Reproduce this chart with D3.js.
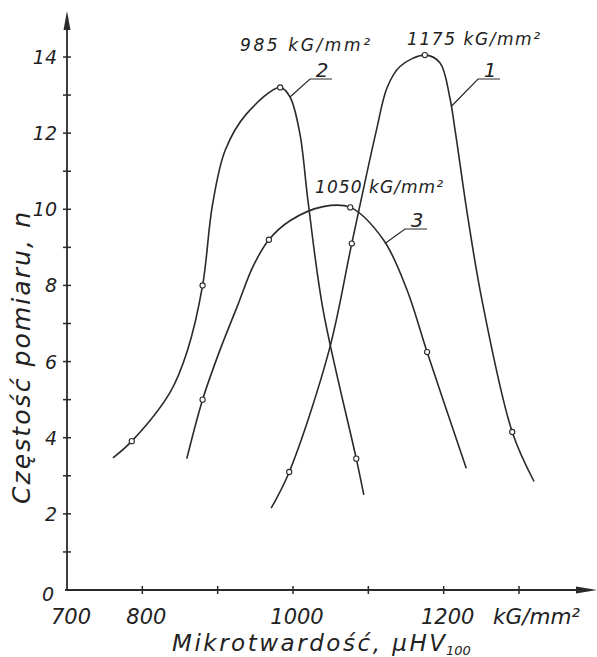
<!DOCTYPE html>
<html>
<head>
<meta charset="utf-8">
<script src="https://cdn.jsdelivr.net/npm/d3@7"></script>
<style>
  body { margin: 0; background: #fff; }
  svg text { font-family: "DejaVu Sans", sans-serif; font-style: italic; fill: #222; }
</style>
</head>
<body>
<svg id="chart" width="597" height="657"></svg>
<script>
// hardness distributions: [microhardness kG/mm2, count n]
var curve1 = [[971, 2.15], [995, 3.1], [1048, 6.3], [1078, 9.1], [1111, 12.1], [1125, 13.2], [1142, 13.75],
  [1175, 14.05], [1195, 13.85], [1208, 12.95], [1215, 12.1], [1232, 9.8], [1251, 7.6], [1291, 4.15], [1320, 2.85]];
var curve2 = [[761, 3.47], [786, 3.91], [837, 5.2], [860, 6.3], [880, 8.0], [893, 10.1], [910, 11.55], [938, 12.5],
  [983, 13.2], [996, 12.95], [1009, 12.0], [1020, 10.2], [1040, 7.35], [1084, 3.45], [1094, 2.5]];
var curve3 = [[859, 3.45], [880, 5.0], [903, 6.3], [926, 7.45], [947, 8.5], [968, 9.2], [996, 9.7], [1040, 10.07],
  [1076, 10.05], [1120, 9.2], [1151, 7.9], [1178, 6.25], [1230, 3.2]];

var marks1 = [[995, 3.1], [1078, 9.1], [1175, 14.05], [1291, 4.15]];
var marks2 = [[786, 3.91], [880, 8.0], [983, 13.2], [1084, 3.45]];
var marks3 = [[880, 5.0], [968, 9.2], [1076, 10.05], [1178, 6.25]];

var peakLabels = ["1175 kG/mm²", "985 kG/mm²", "1050 kG/mm²"];
var curveNames = ["1", "2", "3"];

var yTicks = [1, 2, 3, 4, 5, 6, 7, 8, 9, 10, 11, 12, 13, 14];
var yLabels = [0, 2, 4, 6, 8, 10, 12, 14];
var xTicks = [800, 900, 1000, 1100, 1200, 1300];
var xLabels = [700, 800, 1000, 1200];

var svg = d3.select("#chart");
var ink = "#2a2a2a";

var x = d3.scaleLinear().domain([700, 1300]).range([67, 519]);
var y = d3.scaleLinear().domain([0, 14]).range([590, 57]);

// axes with arrow heads
svg.append("line").attr("x1", x(700)).attr("x2", x(700)).attr("y1", y(0)).attr("y2", 16)
  .attr("stroke", ink).attr("stroke-width", 1.8);
svg.append("path").attr("d", "M67,11 L63.5,30 L70.5,30 Z").attr("fill", ink);
svg.append("line").attr("x1", x(700) - 2).attr("x2", 590).attr("y1", y(0)).attr("y2", y(0))
  .attr("stroke", ink).attr("stroke-width", 1.8);
svg.append("path").attr("d", "M597,590 L576,586.5 L576,593.5 Z").attr("fill", ink);

svg.selectAll(".yt").data(yTicks).enter().append("line")
  .attr("x1", x(700) - 4).attr("x2", x(700) + 4)
  .attr("y1", function(d) { return y(d); }).attr("y2", function(d) { return y(d); })
  .attr("stroke", ink).attr("stroke-width", 1.5);
svg.selectAll(".xt").data(xTicks).enter().append("line")
  .attr("x1", function(d) { return x(d); }).attr("x2", function(d) { return x(d); })
  .attr("y1", y(0) - 4).attr("y2", y(0) + 4)
  .attr("stroke", ink).attr("stroke-width", 1.5);

svg.selectAll(".yl").data(yLabels).enter().append("text")
  .attr("x", function(d) { return d === 0 ? 54 : 57; })
  .attr("y", function(d) { return y(d) + 7 + (d === 0 ? 4 : 0); })
  .attr("text-anchor", "end").attr("font-size", 19)
  .text(function(d) { return d; });
svg.selectAll(".xl").data(xLabels).enter().append("text")
  .attr("x", function(d) { return x(d) + 4; }).attr("y", 624)
  .attr("text-anchor", "middle").attr("font-size", 21)
  .text(function(d) { return d; });
svg.append("text").attr("x", 493).attr("y", 624).attr("font-size", 21)
  .attr("textLength", 87).attr("lengthAdjust", "spacingAndGlyphs").text("kG/mm²");

// axis titles
svg.append("text").attr("transform", "translate(30,358) rotate(-90)")
  .attr("text-anchor", "middle").attr("font-size", 25)
  .attr("textLength", 292).attr("lengthAdjust", "spacing")
  .text("Częstość pomiaru, n");
svg.append("text").attr("x", 172).attr("y", 651).attr("font-size", 23)
  .attr("textLength", 273).attr("lengthAdjust", "spacing")
  .text("Mikrotwardość, μHV");
svg.append("text").attr("x", 446).attr("y", 655).attr("font-size", 13)
  .text("100");

// curves
var line = d3.line()
  .x(function(d) { return x(d[0]); })
  .y(function(d) { return y(d[1]); })
  .curve(d3.curveCatmullRom.alpha(0.5));

[curve1, curve2, curve3].forEach(function(c) {
  svg.append("path").attr("d", line(c)).attr("fill", "none")
    .attr("stroke", ink).attr("stroke-width", 1.6);
});

[marks1, marks2, marks3].forEach(function(m) {
  svg.selectAll(null).data(m).enter().append("circle")
    .attr("cx", function(d) { return x(d[0]); })
    .attr("cy", function(d) { return y(d[1]); })
    .attr("r", 2.6).attr("fill", "#fff").attr("stroke", ink).attr("stroke-width", 1.1);
});

// peak annotations
var peakPos = [[407, 45, 133], [240, 51, 130], [315, 193, 128]];
peakLabels.forEach(function(t, i) {
  svg.append("text").attr("x", peakPos[i][0]).attr("y", peakPos[i][1])
    .attr("font-size", 17).attr("textLength", peakPos[i][2]).attr("lengthAdjust", "spacing")
    .text(t);
});

// curve numbers with leader lines (leader starts on the curve)
var leaderFrom = [[1210, 12.7], [996, 12.95], [1122, 9.1]];
var tagPos = [[478, 79], [310, 79], [405, 229]];
curveNames.forEach(function(n, i) {
  var fx = x(leaderFrom[i][0]), fy = y(leaderFrom[i][1]);
  var tx = tagPos[i][0], ty = tagPos[i][1];
  svg.append("path").attr("d", "M" + fx + "," + fy + " L" + tx + "," + ty + " L" + (tx + 22) + "," + ty)
    .attr("fill", "none").attr("stroke", ink).attr("stroke-width", 1.2);
  svg.append("text").attr("x", tx + 12).attr("y", ty - 2).attr("text-anchor", "middle")
    .attr("font-size", 20).text(n);
});
</script>
</body>
</html>
